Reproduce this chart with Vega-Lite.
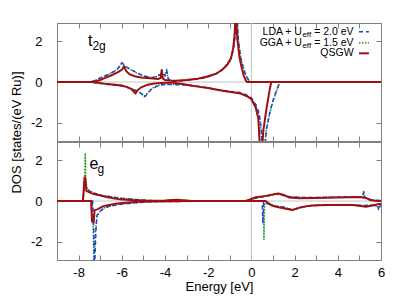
{
"$schema":"https://vega.github.io/schema/vega-lite/v6.json",
"padding":{"left":9,"top":22,"right":21,"bottom":5},
"spacing":1,
"bounds":"flush",
"config":{"view":{"stroke":"#808080","strokeWidth":1},"font":"Liberation Sans",
"axis":{"tickSize":-5,"tickColor":"#808080","tickWidth":1,"domain":false,"grid":false,"labelFont":"Liberation Sans","labelFontSize":13,"labelColor":"#000","titleFont":"Liberation Sans","titleFontSize":13,"titleColor":"#000","titleFontWeight":"normal","labelFlush":false,"labelOverlap":false}},
"datasets":{"dos":[
{"p":"t","m":"Q","s":"u","E":-9,"v":0},{"p":"t","m":"Q","s":"u","E":-7.4,"v":0},{"p":"t","m":"Q","s":"u","E":-7.2,"v":0.03},{"p":"t","m":"Q","s":"u","E":-7,"v":0.1},{"p":"t","m":"Q","s":"u","E":-6.8,"v":0.19},{"p":"t","m":"Q","s":"u","E":-6.5,"v":0.32},{"p":"t","m":"Q","s":"u","E":-6.2,"v":0.47},{"p":"t","m":"Q","s":"u","E":-6,"v":0.6},{"p":"t","m":"Q","s":"u","E":-5.9,"v":0.76},{"p":"t","m":"Q","s":"u","E":-5.8,"v":0.55},{"p":"t","m":"Q","s":"u","E":-5.65,"v":0.38},{"p":"t","m":"Q","s":"u","E":-5.4,"v":0.28},{"p":"t","m":"Q","s":"u","E":-5.1,"v":0.22},{"p":"t","m":"Q","s":"u","E":-4.7,"v":0.18},{"p":"t","m":"Q","s":"u","E":-4.3,"v":0.15},{"p":"t","m":"Q","s":"u","E":-4.2,"v":0.2},{"p":"t","m":"Q","s":"u","E":-4.15,"v":0.62},{"p":"t","m":"Q","s":"u","E":-4.1,"v":0.18},{"p":"t","m":"Q","s":"u","E":-4,"v":0.1},{"p":"t","m":"Q","s":"u","E":-3.8,"v":0.07},{"p":"t","m":"Q","s":"u","E":-3.5,"v":0.06},{"p":"t","m":"Q","s":"u","E":-3,"v":0.1},{"p":"t","m":"Q","s":"u","E":-2.5,"v":0.16},{"p":"t","m":"Q","s":"u","E":-2,"v":0.27},{"p":"t","m":"Q","s":"u","E":-1.6,"v":0.42},{"p":"t","m":"Q","s":"u","E":-1.3,"v":0.65},{"p":"t","m":"Q","s":"u","E":-1.1,"v":0.88},{"p":"t","m":"Q","s":"u","E":-0.95,"v":1.16},{"p":"t","m":"Q","s":"u","E":-0.85,"v":1.6},{"p":"t","m":"Q","s":"u","E":-0.78,"v":2.3},{"p":"t","m":"Q","s":"u","E":-0.72,"v":3.5},{"p":"t","m":"Q","s":"u","E":-0.65,"v":2.1},{"p":"t","m":"Q","s":"u","E":-0.55,"v":1.2},{"p":"t","m":"Q","s":"u","E":-0.45,"v":0.7},{"p":"t","m":"Q","s":"u","E":-0.35,"v":0.3},{"p":"t","m":"Q","s":"u","E":-0.25,"v":0.05},{"p":"t","m":"Q","s":"u","E":-0.2,"v":0},{"p":"t","m":"Q","s":"u","E":6,"v":0},
{"p":"t","m":"L","s":"u","E":-9,"v":0},{"p":"t","m":"L","s":"u","E":-7.5,"v":0},{"p":"t","m":"L","s":"u","E":-7.3,"v":0.05},{"p":"t","m":"L","s":"u","E":-7.1,"v":0.15},{"p":"t","m":"L","s":"u","E":-6.9,"v":0.25},{"p":"t","m":"L","s":"u","E":-6.7,"v":0.33},{"p":"t","m":"L","s":"u","E":-6.5,"v":0.45},{"p":"t","m":"L","s":"u","E":-6.3,"v":0.55},{"p":"t","m":"L","s":"u","E":-6.15,"v":0.7},{"p":"t","m":"L","s":"u","E":-6,"v":0.95},{"p":"t","m":"L","s":"u","E":-5.9,"v":0.85},{"p":"t","m":"L","s":"u","E":-5.75,"v":0.72},{"p":"t","m":"L","s":"u","E":-5.55,"v":0.6},{"p":"t","m":"L","s":"u","E":-5.3,"v":0.45},{"p":"t","m":"L","s":"u","E":-5.1,"v":0.35},{"p":"t","m":"L","s":"u","E":-4.9,"v":0.28},{"p":"t","m":"L","s":"u","E":-4.6,"v":0.22},{"p":"t","m":"L","s":"u","E":-4.4,"v":0.25},{"p":"t","m":"L","s":"u","E":-4.25,"v":0.35},{"p":"t","m":"L","s":"u","E":-4.1,"v":0.45},{"p":"t","m":"L","s":"u","E":-4,"v":0.3},{"p":"t","m":"L","s":"u","E":-3.92,"v":0.55},{"p":"t","m":"L","s":"u","E":-3.85,"v":0.15},{"p":"t","m":"L","s":"u","E":-3.7,"v":0.03},{"p":"t","m":"L","s":"u","E":-3.3,"v":0.05},{"p":"t","m":"L","s":"u","E":-2.9,"v":0.1},{"p":"t","m":"L","s":"u","E":-2.5,"v":0.15},{"p":"t","m":"L","s":"u","E":-2.2,"v":0.2},{"p":"t","m":"L","s":"u","E":-2,"v":0.3},{"p":"t","m":"L","s":"u","E":-1.7,"v":0.38},{"p":"t","m":"L","s":"u","E":-1.4,"v":0.55},{"p":"t","m":"L","s":"u","E":-1.2,"v":0.75},{"p":"t","m":"L","s":"u","E":-1,"v":1},{"p":"t","m":"L","s":"u","E":-0.9,"v":1.3},{"p":"t","m":"L","s":"u","E":-0.8,"v":1.8},{"p":"t","m":"L","s":"u","E":-0.72,"v":2.5},{"p":"t","m":"L","s":"u","E":-0.68,"v":3.5},{"p":"t","m":"L","s":"u","E":-0.6,"v":2},{"p":"t","m":"L","s":"u","E":-0.5,"v":1.2},{"p":"t","m":"L","s":"u","E":-0.4,"v":0.8},{"p":"t","m":"L","s":"u","E":-0.3,"v":0.45},{"p":"t","m":"L","s":"u","E":-0.2,"v":0.2},{"p":"t","m":"L","s":"u","E":-0.1,"v":0.05},{"p":"t","m":"L","s":"u","E":-0.05,"v":0},{"p":"t","m":"L","s":"u","E":6,"v":0},
{"p":"t","m":"G","s":"u","E":-9,"v":0},{"p":"t","m":"G","s":"u","E":-7.5,"v":0},{"p":"t","m":"G","s":"u","E":-7.3,"v":0.04},{"p":"t","m":"G","s":"u","E":-7.1,"v":0.14},{"p":"t","m":"G","s":"u","E":-6.9,"v":0.24},{"p":"t","m":"G","s":"u","E":-6.7,"v":0.35},{"p":"t","m":"G","s":"u","E":-6.5,"v":0.43},{"p":"t","m":"G","s":"u","E":-6.3,"v":0.56},{"p":"t","m":"G","s":"u","E":-6.15,"v":0.68},{"p":"t","m":"G","s":"u","E":-6.02,"v":0.9},{"p":"t","m":"G","s":"u","E":-5.9,"v":0.82},{"p":"t","m":"G","s":"u","E":-5.75,"v":0.7},{"p":"t","m":"G","s":"u","E":-5.55,"v":0.58},{"p":"t","m":"G","s":"u","E":-5.3,"v":0.44},{"p":"t","m":"G","s":"u","E":-5.1,"v":0.34},{"p":"t","m":"G","s":"u","E":-4.9,"v":0.27},{"p":"t","m":"G","s":"u","E":-4.6,"v":0.22},{"p":"t","m":"G","s":"u","E":-4.4,"v":0.26},{"p":"t","m":"G","s":"u","E":-4.25,"v":0.36},{"p":"t","m":"G","s":"u","E":-4.1,"v":0.42},{"p":"t","m":"G","s":"u","E":-4,"v":0.35},{"p":"t","m":"G","s":"u","E":-3.93,"v":0.6},{"p":"t","m":"G","s":"u","E":-3.86,"v":0.2},{"p":"t","m":"G","s":"u","E":-3.7,"v":0.04},{"p":"t","m":"G","s":"u","E":-3.3,"v":0.06},{"p":"t","m":"G","s":"u","E":-2.9,"v":0.1},{"p":"t","m":"G","s":"u","E":-2.5,"v":0.16},{"p":"t","m":"G","s":"u","E":-2.2,"v":0.22},{"p":"t","m":"G","s":"u","E":-2,"v":0.3},{"p":"t","m":"G","s":"u","E":-1.7,"v":0.4},{"p":"t","m":"G","s":"u","E":-1.4,"v":0.56},{"p":"t","m":"G","s":"u","E":-1.2,"v":0.78},{"p":"t","m":"G","s":"u","E":-1,"v":1.05},{"p":"t","m":"G","s":"u","E":-0.9,"v":1.35},{"p":"t","m":"G","s":"u","E":-0.8,"v":1.9},{"p":"t","m":"G","s":"u","E":-0.73,"v":2.7},{"p":"t","m":"G","s":"u","E":-0.69,"v":3.5},{"p":"t","m":"G","s":"u","E":-0.61,"v":2.1},{"p":"t","m":"G","s":"u","E":-0.5,"v":1.25},{"p":"t","m":"G","s":"u","E":-0.4,"v":0.82},{"p":"t","m":"G","s":"u","E":-0.3,"v":0.48},{"p":"t","m":"G","s":"u","E":-0.2,"v":0.22},{"p":"t","m":"G","s":"u","E":-0.1,"v":0.06},{"p":"t","m":"G","s":"u","E":-0.04,"v":0},{"p":"t","m":"G","s":"u","E":6,"v":0},
{"p":"t","m":"Q","s":"d","E":-9,"v":0},{"p":"t","m":"Q","s":"d","E":-7.4,"v":0},{"p":"t","m":"Q","s":"d","E":-7.2,"v":-0.03},{"p":"t","m":"Q","s":"d","E":-6.8,"v":-0.08},{"p":"t","m":"Q","s":"d","E":-6.4,"v":-0.12},{"p":"t","m":"Q","s":"d","E":-6,"v":-0.17},{"p":"t","m":"Q","s":"d","E":-5.75,"v":-0.25},{"p":"t","m":"Q","s":"d","E":-5.55,"v":-0.35},{"p":"t","m":"Q","s":"d","E":-5.42,"v":-0.5},{"p":"t","m":"Q","s":"d","E":-5.36,"v":-0.56},{"p":"t","m":"Q","s":"d","E":-5.3,"v":-0.42},{"p":"t","m":"Q","s":"d","E":-5.1,"v":-0.26},{"p":"t","m":"Q","s":"d","E":-4.8,"v":-0.13},{"p":"t","m":"Q","s":"d","E":-4.5,"v":-0.07},{"p":"t","m":"Q","s":"d","E":-4,"v":-0.04},{"p":"t","m":"Q","s":"d","E":-3.6,"v":-0.04},{"p":"t","m":"Q","s":"d","E":-3.2,"v":-0.1},{"p":"t","m":"Q","s":"d","E":-2.8,"v":-0.17},{"p":"t","m":"Q","s":"d","E":-2.4,"v":-0.24},{"p":"t","m":"Q","s":"d","E":-2,"v":-0.3},{"p":"t","m":"Q","s":"d","E":-1.6,"v":-0.38},{"p":"t","m":"Q","s":"d","E":-1.2,"v":-0.45},{"p":"t","m":"Q","s":"d","E":-0.8,"v":-0.52},{"p":"t","m":"Q","s":"d","E":-0.5,"v":-0.57},{"p":"t","m":"Q","s":"d","E":-0.2,"v":-0.7},{"p":"t","m":"Q","s":"d","E":0,"v":-0.85},{"p":"t","m":"Q","s":"d","E":0.2,"v":-1.25},{"p":"t","m":"Q","s":"d","E":0.32,"v":-1.8},{"p":"t","m":"Q","s":"d","E":0.4,"v":-3.3},{"p":"t","m":"Q","s":"d","E":0.5,"v":-3.3},{"p":"t","m":"Q","s":"d","E":0.55,"v":-2.4},{"p":"t","m":"Q","s":"d","E":0.7,"v":-1.3},{"p":"t","m":"Q","s":"d","E":0.85,"v":-0.35},{"p":"t","m":"Q","s":"d","E":0.92,"v":0},{"p":"t","m":"Q","s":"d","E":6,"v":0},
{"p":"t","m":"L","s":"d","E":-9,"v":0},{"p":"t","m":"L","s":"d","E":-7.4,"v":0},{"p":"t","m":"L","s":"d","E":-7.2,"v":-0.05},{"p":"t","m":"L","s":"d","E":-6.8,"v":-0.1},{"p":"t","m":"L","s":"d","E":-6.4,"v":-0.15},{"p":"t","m":"L","s":"d","E":-6,"v":-0.2},{"p":"t","m":"L","s":"d","E":-5.7,"v":-0.28},{"p":"t","m":"L","s":"d","E":-5.45,"v":-0.38},{"p":"t","m":"L","s":"d","E":-5.2,"v":-0.5},{"p":"t","m":"L","s":"d","E":-5.05,"v":-0.62},{"p":"t","m":"L","s":"d","E":-4.95,"v":-0.75},{"p":"t","m":"L","s":"d","E":-4.85,"v":-0.62},{"p":"t","m":"L","s":"d","E":-4.65,"v":-0.38},{"p":"t","m":"L","s":"d","E":-4.4,"v":-0.22},{"p":"t","m":"L","s":"d","E":-4.2,"v":-0.15},{"p":"t","m":"L","s":"d","E":-4,"v":-0.12},{"p":"t","m":"L","s":"d","E":-3.8,"v":-0.12},{"p":"t","m":"L","s":"d","E":-3.4,"v":-0.13},{"p":"t","m":"L","s":"d","E":-3,"v":-0.15},{"p":"t","m":"L","s":"d","E":-2.7,"v":-0.18},{"p":"t","m":"L","s":"d","E":-2.4,"v":-0.22},{"p":"t","m":"L","s":"d","E":-2.1,"v":-0.27},{"p":"t","m":"L","s":"d","E":-1.8,"v":-0.33},{"p":"t","m":"L","s":"d","E":-1.5,"v":-0.38},{"p":"t","m":"L","s":"d","E":-1.2,"v":-0.43},{"p":"t","m":"L","s":"d","E":-0.9,"v":-0.48},{"p":"t","m":"L","s":"d","E":-0.6,"v":-0.5},{"p":"t","m":"L","s":"d","E":-0.3,"v":-0.6},{"p":"t","m":"L","s":"d","E":0,"v":-0.78},{"p":"t","m":"L","s":"d","E":0.2,"v":-1.1},{"p":"t","m":"L","s":"d","E":0.35,"v":-1.5},{"p":"t","m":"L","s":"d","E":0.45,"v":-2.2},{"p":"t","m":"L","s":"d","E":0.52,"v":-3.3},{"p":"t","m":"L","s":"d","E":0.62,"v":-3.3},{"p":"t","m":"L","s":"d","E":0.7,"v":-2.3},{"p":"t","m":"L","s":"d","E":0.85,"v":-1.5},{"p":"t","m":"L","s":"d","E":1,"v":-0.9},{"p":"t","m":"L","s":"d","E":1.15,"v":-0.45},{"p":"t","m":"L","s":"d","E":1.3,"v":-0.05},{"p":"t","m":"L","s":"d","E":1.35,"v":0},{"p":"t","m":"L","s":"d","E":6,"v":0},
{"p":"t","m":"G","s":"d","E":-9,"v":0},{"p":"t","m":"G","s":"d","E":-7.4,"v":0},{"p":"t","m":"G","s":"d","E":-7.2,"v":-0.04},{"p":"t","m":"G","s":"d","E":-6.8,"v":-0.1},{"p":"t","m":"G","s":"d","E":-6.4,"v":-0.14},{"p":"t","m":"G","s":"d","E":-6,"v":-0.2},{"p":"t","m":"G","s":"d","E":-5.7,"v":-0.27},{"p":"t","m":"G","s":"d","E":-5.45,"v":-0.37},{"p":"t","m":"G","s":"d","E":-5.2,"v":-0.48},{"p":"t","m":"G","s":"d","E":-5.05,"v":-0.6},{"p":"t","m":"G","s":"d","E":-4.97,"v":-0.7},{"p":"t","m":"G","s":"d","E":-4.85,"v":-0.6},{"p":"t","m":"G","s":"d","E":-4.65,"v":-0.36},{"p":"t","m":"G","s":"d","E":-4.4,"v":-0.2},{"p":"t","m":"G","s":"d","E":-4.2,"v":-0.14},{"p":"t","m":"G","s":"d","E":-4,"v":-0.11},{"p":"t","m":"G","s":"d","E":-3.8,"v":-0.11},{"p":"t","m":"G","s":"d","E":-3.4,"v":-0.12},{"p":"t","m":"G","s":"d","E":-3,"v":-0.15},{"p":"t","m":"G","s":"d","E":-2.7,"v":-0.19},{"p":"t","m":"G","s":"d","E":-2.4,"v":-0.23},{"p":"t","m":"G","s":"d","E":-2.1,"v":-0.28},{"p":"t","m":"G","s":"d","E":-1.8,"v":-0.33},{"p":"t","m":"G","s":"d","E":-1.5,"v":-0.39},{"p":"t","m":"G","s":"d","E":-1.2,"v":-0.44},{"p":"t","m":"G","s":"d","E":-0.9,"v":-0.48},{"p":"t","m":"G","s":"d","E":-0.6,"v":-0.52},{"p":"t","m":"G","s":"d","E":-0.3,"v":-0.62},{"p":"t","m":"G","s":"d","E":0,"v":-0.8},{"p":"t","m":"G","s":"d","E":0.2,"v":-1.15},{"p":"t","m":"G","s":"d","E":0.35,"v":-1.6},{"p":"t","m":"G","s":"d","E":0.45,"v":-2.4},{"p":"t","m":"G","s":"d","E":0.5,"v":-3.3},{"p":"t","m":"G","s":"d","E":0.6,"v":-3.3},{"p":"t","m":"G","s":"d","E":0.68,"v":-2.4},{"p":"t","m":"G","s":"d","E":0.85,"v":-1.55},{"p":"t","m":"G","s":"d","E":1,"v":-0.95},{"p":"t","m":"G","s":"d","E":1.15,"v":-0.5},{"p":"t","m":"G","s":"d","E":1.3,"v":-0.08},{"p":"t","m":"G","s":"d","E":1.36,"v":0},{"p":"t","m":"G","s":"d","E":6,"v":0},
{"p":"e","m":"Q","s":"u","E":-9,"v":0},{"p":"e","m":"Q","s":"u","E":-7.8,"v":0},{"p":"e","m":"Q","s":"u","E":-7.76,"v":0.6},{"p":"e","m":"Q","s":"u","E":-7.72,"v":1.2},{"p":"e","m":"Q","s":"u","E":-7.68,"v":1.05},{"p":"e","m":"Q","s":"u","E":-7.64,"v":0.5},{"p":"e","m":"Q","s":"u","E":-7.5,"v":0.42},{"p":"e","m":"Q","s":"u","E":-7.3,"v":0.34},{"p":"e","m":"Q","s":"u","E":-7.1,"v":0.3},{"p":"e","m":"Q","s":"u","E":-6.9,"v":0.25},{"p":"e","m":"Q","s":"u","E":-6.7,"v":0.2},{"p":"e","m":"Q","s":"u","E":-6.4,"v":0.13},{"p":"e","m":"Q","s":"u","E":-6.1,"v":0.08},{"p":"e","m":"Q","s":"u","E":-5.8,"v":0.06},{"p":"e","m":"Q","s":"u","E":-5.4,"v":0.04},{"p":"e","m":"Q","s":"u","E":-5,"v":0.02},{"p":"e","m":"Q","s":"u","E":-4.5,"v":0.01},{"p":"e","m":"Q","s":"u","E":-4,"v":0.02},{"p":"e","m":"Q","s":"u","E":-3.7,"v":0.05},{"p":"e","m":"Q","s":"u","E":-3.4,"v":0.06},{"p":"e","m":"Q","s":"u","E":-3.1,"v":0.03},{"p":"e","m":"Q","s":"u","E":-2.8,"v":0.01},{"p":"e","m":"Q","s":"u","E":-2.5,"v":0},{"p":"e","m":"Q","s":"u","E":-0.3,"v":0},{"p":"e","m":"Q","s":"u","E":-0.2,"v":0.03},{"p":"e","m":"Q","s":"u","E":0,"v":0.1},{"p":"e","m":"Q","s":"u","E":0.2,"v":0.18},{"p":"e","m":"Q","s":"u","E":0.6,"v":0.24},{"p":"e","m":"Q","s":"u","E":1,"v":0.32},{"p":"e","m":"Q","s":"u","E":1.25,"v":0.37},{"p":"e","m":"Q","s":"u","E":1.5,"v":0.3},{"p":"e","m":"Q","s":"u","E":1.75,"v":0.17},{"p":"e","m":"Q","s":"u","E":2.2,"v":0.13},{"p":"e","m":"Q","s":"u","E":3,"v":0.15},{"p":"e","m":"Q","s":"u","E":4,"v":0.17},{"p":"e","m":"Q","s":"u","E":5,"v":0.2},{"p":"e","m":"Q","s":"u","E":5.3,"v":0.15},{"p":"e","m":"Q","s":"u","E":5.5,"v":0.05},{"p":"e","m":"Q","s":"u","E":5.7,"v":0.01},{"p":"e","m":"Q","s":"u","E":6,"v":0},
{"p":"e","m":"Q","s":"d","E":-9,"v":0},{"p":"e","m":"Q","s":"d","E":-7.42,"v":0},{"p":"e","m":"Q","s":"d","E":-7.4,"v":-0.5},{"p":"e","m":"Q","s":"d","E":-7.38,"v":-1},{"p":"e","m":"Q","s":"d","E":-7.3,"v":-1.02},{"p":"e","m":"Q","s":"d","E":-7.26,"v":-0.45},{"p":"e","m":"Q","s":"d","E":-7.1,"v":-0.4},{"p":"e","m":"Q","s":"d","E":-6.95,"v":-0.3},{"p":"e","m":"Q","s":"d","E":-6.85,"v":-0.25},{"p":"e","m":"Q","s":"d","E":-6.6,"v":-0.2},{"p":"e","m":"Q","s":"d","E":-6.2,"v":-0.12},{"p":"e","m":"Q","s":"d","E":-5.8,"v":-0.08},{"p":"e","m":"Q","s":"d","E":-5.4,"v":-0.05},{"p":"e","m":"Q","s":"d","E":-5,"v":-0.03},{"p":"e","m":"Q","s":"d","E":-4.5,"v":-0.02},{"p":"e","m":"Q","s":"d","E":-4,"v":-0.01},{"p":"e","m":"Q","s":"d","E":-2.5,"v":0},{"p":"e","m":"Q","s":"d","E":0.65,"v":0},{"p":"e","m":"Q","s":"d","E":0.75,"v":-0.08},{"p":"e","m":"Q","s":"d","E":0.95,"v":-0.22},{"p":"e","m":"Q","s":"d","E":1.2,"v":-0.3},{"p":"e","m":"Q","s":"d","E":1.6,"v":-0.38},{"p":"e","m":"Q","s":"d","E":1.9,"v":-0.44},{"p":"e","m":"Q","s":"d","E":2.3,"v":-0.3},{"p":"e","m":"Q","s":"d","E":2.8,"v":-0.22},{"p":"e","m":"Q","s":"d","E":3.5,"v":-0.2},{"p":"e","m":"Q","s":"d","E":4.2,"v":-0.2},{"p":"e","m":"Q","s":"d","E":4.7,"v":-0.2},{"p":"e","m":"Q","s":"d","E":5.3,"v":-0.28},{"p":"e","m":"Q","s":"d","E":5.6,"v":-0.22},{"p":"e","m":"Q","s":"d","E":5.9,"v":-0.15},{"p":"e","m":"Q","s":"d","E":6,"v":-0.15},
{"p":"e","m":"L","s":"u","E":-9,"v":0},{"p":"e","m":"L","s":"u","E":-7.8,"v":0},{"p":"e","m":"L","s":"u","E":-7.76,"v":0.5},{"p":"e","m":"L","s":"u","E":-7.73,"v":1},{"p":"e","m":"L","s":"u","E":-7.69,"v":0.85},{"p":"e","m":"L","s":"u","E":-7.62,"v":0.6},{"p":"e","m":"L","s":"u","E":-7.5,"v":0.48},{"p":"e","m":"L","s":"u","E":-7.3,"v":0.4},{"p":"e","m":"L","s":"u","E":-7.1,"v":0.32},{"p":"e","m":"L","s":"u","E":-6.9,"v":0.27},{"p":"e","m":"L","s":"u","E":-6.6,"v":0.22},{"p":"e","m":"L","s":"u","E":-6.3,"v":0.17},{"p":"e","m":"L","s":"u","E":-6,"v":0.13},{"p":"e","m":"L","s":"u","E":-5.6,"v":0.1},{"p":"e","m":"L","s":"u","E":-5.2,"v":0.06},{"p":"e","m":"L","s":"u","E":-4.8,"v":0.03},{"p":"e","m":"L","s":"u","E":-4.4,"v":0.01},{"p":"e","m":"L","s":"u","E":-3.8,"v":0.02},{"p":"e","m":"L","s":"u","E":-3.5,"v":0.05},{"p":"e","m":"L","s":"u","E":-3.2,"v":0.04},{"p":"e","m":"L","s":"u","E":-2.9,"v":0.02},{"p":"e","m":"L","s":"u","E":-2.5,"v":0},{"p":"e","m":"L","s":"u","E":-0.2,"v":0},{"p":"e","m":"L","s":"u","E":-0.1,"v":0.05},{"p":"e","m":"L","s":"u","E":0.2,"v":0.14},{"p":"e","m":"L","s":"u","E":0.5,"v":0.2},{"p":"e","m":"L","s":"u","E":0.8,"v":0.26},{"p":"e","m":"L","s":"u","E":1.1,"v":0.35},{"p":"e","m":"L","s":"u","E":1.4,"v":0.3},{"p":"e","m":"L","s":"u","E":1.8,"v":0.2},{"p":"e","m":"L","s":"u","E":2.5,"v":0.17},{"p":"e","m":"L","s":"u","E":3.5,"v":0.18},{"p":"e","m":"L","s":"u","E":4.5,"v":0.2},{"p":"e","m":"L","s":"u","E":5.15,"v":0.2},{"p":"e","m":"L","s":"u","E":5.2,"v":0.45},{"p":"e","m":"L","s":"u","E":5.25,"v":0.15},{"p":"e","m":"L","s":"u","E":5.6,"v":0.05},{"p":"e","m":"L","s":"u","E":6,"v":0.02},
{"p":"e","m":"G","s":"u","E":-9,"v":0},{"p":"e","m":"G","s":"u","E":-7.8,"v":0},{"p":"e","m":"G","s":"u","E":-7.72,"v":0.8},{"p":"e","m":"G","s":"u","E":-7.69,"v":2.35},{"p":"e","m":"G","s":"u","E":-7.66,"v":0.9},{"p":"e","m":"G","s":"u","E":-7.6,"v":0.62},{"p":"e","m":"G","s":"u","E":-7.5,"v":0.5},{"p":"e","m":"G","s":"u","E":-7.3,"v":0.4},{"p":"e","m":"G","s":"u","E":-7.1,"v":0.33},{"p":"e","m":"G","s":"u","E":-6.9,"v":0.27},{"p":"e","m":"G","s":"u","E":-6.6,"v":0.23},{"p":"e","m":"G","s":"u","E":-6.3,"v":0.18},{"p":"e","m":"G","s":"u","E":-6,"v":0.13},{"p":"e","m":"G","s":"u","E":-5.6,"v":0.1},{"p":"e","m":"G","s":"u","E":-5.2,"v":0.06},{"p":"e","m":"G","s":"u","E":-4.8,"v":0.03},{"p":"e","m":"G","s":"u","E":-4.4,"v":0.01},{"p":"e","m":"G","s":"u","E":-3.8,"v":0.02},{"p":"e","m":"G","s":"u","E":-3.5,"v":0.05},{"p":"e","m":"G","s":"u","E":-3.2,"v":0.04},{"p":"e","m":"G","s":"u","E":-2.9,"v":0.02},{"p":"e","m":"G","s":"u","E":-2.5,"v":0},{"p":"e","m":"G","s":"u","E":-0.2,"v":0},{"p":"e","m":"G","s":"u","E":-0.1,"v":0.06},{"p":"e","m":"G","s":"u","E":0.2,"v":0.15},{"p":"e","m":"G","s":"u","E":0.5,"v":0.21},{"p":"e","m":"G","s":"u","E":0.8,"v":0.26},{"p":"e","m":"G","s":"u","E":1.1,"v":0.34},{"p":"e","m":"G","s":"u","E":1.4,"v":0.3},{"p":"e","m":"G","s":"u","E":1.8,"v":0.2},{"p":"e","m":"G","s":"u","E":2.5,"v":0.17},{"p":"e","m":"G","s":"u","E":3.5,"v":0.18},{"p":"e","m":"G","s":"u","E":4.5,"v":0.2},{"p":"e","m":"G","s":"u","E":5.15,"v":0.2},{"p":"e","m":"G","s":"u","E":5.2,"v":0.5},{"p":"e","m":"G","s":"u","E":5.25,"v":0.15},{"p":"e","m":"G","s":"u","E":5.6,"v":0.05},{"p":"e","m":"G","s":"u","E":6,"v":0.02},
{"p":"e","m":"L","s":"d","E":-9,"v":0},{"p":"e","m":"L","s":"d","E":-7.35,"v":0},{"p":"e","m":"L","s":"d","E":-7.3,"v":-1.5},{"p":"e","m":"L","s":"d","E":-7.26,"v":-3.3},{"p":"e","m":"L","s":"d","E":-7.2,"v":-1.5},{"p":"e","m":"L","s":"d","E":-7.15,"v":-0.7},{"p":"e","m":"L","s":"d","E":-7,"v":-0.5},{"p":"e","m":"L","s":"d","E":-6.8,"v":-0.32},{"p":"e","m":"L","s":"d","E":-6.5,"v":-0.25},{"p":"e","m":"L","s":"d","E":-6.3,"v":-0.2},{"p":"e","m":"L","s":"d","E":-6,"v":-0.15},{"p":"e","m":"L","s":"d","E":-5.7,"v":-0.12},{"p":"e","m":"L","s":"d","E":-5.3,"v":-0.08},{"p":"e","m":"L","s":"d","E":-5,"v":-0.06},{"p":"e","m":"L","s":"d","E":-4.6,"v":-0.03},{"p":"e","m":"L","s":"d","E":-4,"v":-0.02},{"p":"e","m":"L","s":"d","E":-3.4,"v":-0.02},{"p":"e","m":"L","s":"d","E":-2.6,"v":-0.01},{"p":"e","m":"L","s":"d","E":-2.3,"v":0},{"p":"e","m":"L","s":"d","E":0.5,"v":0},{"p":"e","m":"L","s":"d","E":0.53,"v":-1.1},{"p":"e","m":"L","s":"d","E":0.57,"v":-0.1},{"p":"e","m":"L","s":"d","E":0.8,"v":-0.15},{"p":"e","m":"L","s":"d","E":1.1,"v":-0.25},{"p":"e","m":"L","s":"d","E":1.5,"v":-0.3},{"p":"e","m":"L","s":"d","E":1.9,"v":-0.45},{"p":"e","m":"L","s":"d","E":2.2,"v":-0.35},{"p":"e","m":"L","s":"d","E":2.6,"v":-0.25},{"p":"e","m":"L","s":"d","E":3.2,"v":-0.2},{"p":"e","m":"L","s":"d","E":4,"v":-0.2},{"p":"e","m":"L","s":"d","E":4.8,"v":-0.2},{"p":"e","m":"L","s":"d","E":5.3,"v":-0.22},{"p":"e","m":"L","s":"d","E":5.6,"v":-0.2},{"p":"e","m":"L","s":"d","E":5.85,"v":-0.28},{"p":"e","m":"L","s":"d","E":5.9,"v":-0.45},{"p":"e","m":"L","s":"d","E":5.95,"v":-0.25},{"p":"e","m":"L","s":"d","E":6,"v":-0.25},
{"p":"e","m":"G","s":"d","E":-9,"v":0},{"p":"e","m":"G","s":"d","E":-7.37,"v":0},{"p":"e","m":"G","s":"d","E":-7.32,"v":-1.5},{"p":"e","m":"G","s":"d","E":-7.29,"v":-3.3},{"p":"e","m":"G","s":"d","E":-7.22,"v":-1.5},{"p":"e","m":"G","s":"d","E":-7.15,"v":-0.75},{"p":"e","m":"G","s":"d","E":-7,"v":-0.5},{"p":"e","m":"G","s":"d","E":-6.8,"v":-0.33},{"p":"e","m":"G","s":"d","E":-6.5,"v":-0.25},{"p":"e","m":"G","s":"d","E":-6.3,"v":-0.2},{"p":"e","m":"G","s":"d","E":-6,"v":-0.15},{"p":"e","m":"G","s":"d","E":-5.7,"v":-0.12},{"p":"e","m":"G","s":"d","E":-5.3,"v":-0.08},{"p":"e","m":"G","s":"d","E":-5,"v":-0.06},{"p":"e","m":"G","s":"d","E":-4.6,"v":-0.03},{"p":"e","m":"G","s":"d","E":-4,"v":-0.02},{"p":"e","m":"G","s":"d","E":-3.4,"v":-0.02},{"p":"e","m":"G","s":"d","E":-2.6,"v":-0.01},{"p":"e","m":"G","s":"d","E":-2.3,"v":0},{"p":"e","m":"G","s":"d","E":0.56,"v":0},{"p":"e","m":"G","s":"d","E":0.58,"v":-1.9},{"p":"e","m":"G","s":"d","E":0.61,"v":-0.1},{"p":"e","m":"G","s":"d","E":0.8,"v":-0.15},{"p":"e","m":"G","s":"d","E":1.1,"v":-0.24},{"p":"e","m":"G","s":"d","E":1.5,"v":-0.3},{"p":"e","m":"G","s":"d","E":1.9,"v":-0.43},{"p":"e","m":"G","s":"d","E":2.2,"v":-0.35},{"p":"e","m":"G","s":"d","E":2.6,"v":-0.25},{"p":"e","m":"G","s":"d","E":3.2,"v":-0.2},{"p":"e","m":"G","s":"d","E":4,"v":-0.2},{"p":"e","m":"G","s":"d","E":4.8,"v":-0.2},{"p":"e","m":"G","s":"d","E":5.3,"v":-0.22},{"p":"e","m":"G","s":"d","E":5.6,"v":-0.2},{"p":"e","m":"G","s":"d","E":5.9,"v":-0.3},{"p":"e","m":"G","s":"d","E":6,"v":-0.25}
]},
"vconcat":[
{"width":324,"height":118,
 "resolve":{"axis":{"x":"independent","y":"independent"}},
 "layer":[
   {"data":{"name":"dos"},"transform":[{"filter":"datum.p==='t' && datum.m==='G'"}],"mark":{"type":"line","color":"#1a8f1a","strokeWidth":1.5,"strokeDash":[1.5,1.5],"clip":true},
    "encoding":{"x":{"field":"E","type":"quantitative","scale":{"domain":[-9,6],"nice":false,"zero":false},"axis":{"values":[-9,-8,-7,-6,-5,-4,-3,-2,-1,0,1,2,3,4,5,6],"labels":false,"title":null}},
     "y":{"field":"v","type":"quantitative","scale":{"domain":[-2.9,2.9],"nice":false,"zero":false},"axis":{"values":[-2,0,2],"labelExpr":"'' + datum.value","labelPadding":20,"title":null}},
     "detail":{"field":"s"}}},
   {"data":{"values":[{}]},"mark":{"type":"point","opacity":0},
    "encoding":{"x":{"datum":0,"type":"quantitative","axis":{"orient":"top","values":[-9,-8,-7,-6,-5,-4,-3,-2,-1,0,1,2,3,4,5,6],"labels":false,"title":null}},
     "y":{"datum":0,"type":"quantitative","axis":{"orient":"right","values":[-2,0,2],"labels":false,"title":null}}}},
   {"data":{"values":[{}]},"mark":{"type":"rule","color":"#c4c4c4","strokeWidth":1},"encoding":{"y":{"datum":0,"type":"quantitative","axis":null}}},
   {"data":{"values":[{}]},"mark":{"type":"rule","color":"#c4c4c4","strokeWidth":1},"encoding":{"x":{"datum":0,"type":"quantitative","axis":null}}},
   {"data":{"name":"dos"},"transform":[{"filter":"datum.p==='t' && datum.m==='L'"}],"mark":{"type":"line","color":"#2040e0","strokeWidth":1.5,"strokeDash":[4,3],"clip":true},
    "encoding":{"x":{"field":"E","type":"quantitative","axis":null},"y":{"field":"v","type":"quantitative","axis":null},"detail":{"field":"s"}}},
   {"data":{"name":"dos"},"transform":[{"filter":"datum.p==='t' && datum.m==='Q'"}],"mark":{"type":"line","color":"#a00f0f","strokeWidth":2,"clip":true},
    "encoding":{"x":{"field":"E","type":"quantitative","axis":null},"y":{"field":"v","type":"quantitative","axis":null},"detail":{"field":"s"}}},
   {"data":{"values":[{}]},"mark":{"type":"text","text":"t","font":"Liberation Sans","fontSize":16,"align":"left","baseline":"alphabetic","color":"#000"},"encoding":{"x":{"datum":-7.56,"type":"quantitative","axis":null},"y":{"datum":1.77,"type":"quantitative","axis":null}}},
   {"data":{"values":[{}]},"mark":{"type":"text","text":"2g","font":"Liberation Sans","fontSize":12,"align":"left","baseline":"alphabetic","color":"#000"},"encoding":{"x":{"datum":-7.36,"type":"quantitative","axis":null},"y":{"datum":1.57,"type":"quantitative","axis":null}}},
   {"data":{"values":[{}]},"mark":{"type":"text","text":"LDA + U","font":"Liberation Sans","fontSize":10.5,"align":"right","baseline":"middle","color":"#000"},"encoding":{"x":{"datum":2.34,"type":"quantitative","axis":null},"y":{"datum":2.47,"type":"quantitative","axis":null}}},
   {"data":{"values":[{}]},"mark":{"type":"text","text":"eff","font":"Liberation Sans","fontSize":8,"align":"left","baseline":"middle","color":"#000"},"encoding":{"x":{"datum":2.36,"type":"quantitative","axis":null},"y":{"datum":2.32,"type":"quantitative","axis":null}}},
   {"data":{"values":[{}]},"mark":{"type":"text","text":"= 2.0 eV","font":"Liberation Sans","fontSize":10.5,"align":"right","baseline":"middle","color":"#000"},"encoding":{"x":{"datum":4.73,"type":"quantitative","axis":null},"y":{"datum":2.47,"type":"quantitative","axis":null}}},
   {"data":{"values":[{}]},"mark":{"type":"rule","color":"#2040e0","strokeWidth":1.5,"strokeDash":[4,3]},"encoding":{"x":{"datum":4.98,"type":"quantitative","axis":null},"x2":{"datum":5.44},"y":{"datum":2.47,"type":"quantitative","axis":null}}},
   {"data":{"values":[{}]},"mark":{"type":"text","text":"GGA + U","font":"Liberation Sans","fontSize":10.5,"align":"right","baseline":"middle","color":"#000"},"encoding":{"x":{"datum":2.34,"type":"quantitative","axis":null},"y":{"datum":1.93,"type":"quantitative","axis":null}}},
   {"data":{"values":[{}]},"mark":{"type":"text","text":"eff","font":"Liberation Sans","fontSize":8,"align":"left","baseline":"middle","color":"#000"},"encoding":{"x":{"datum":2.36,"type":"quantitative","axis":null},"y":{"datum":1.78,"type":"quantitative","axis":null}}},
   {"data":{"values":[{}]},"mark":{"type":"text","text":"= 1.5 eV","font":"Liberation Sans","fontSize":10.5,"align":"right","baseline":"middle","color":"#000"},"encoding":{"x":{"datum":4.73,"type":"quantitative","axis":null},"y":{"datum":1.93,"type":"quantitative","axis":null}}},
   {"data":{"values":[{}]},"mark":{"type":"rule","color":"#1a8f1a","strokeWidth":1.5,"strokeDash":[1.5,1.5]},"encoding":{"x":{"datum":4.98,"type":"quantitative","axis":null},"x2":{"datum":5.44},"y":{"datum":1.93,"type":"quantitative","axis":null}}},
   {"data":{"values":[{}]},"mark":{"type":"text","text":"QSGW","font":"Liberation Sans","fontSize":10.5,"align":"right","baseline":"middle","color":"#000"},"encoding":{"x":{"datum":4.73,"type":"quantitative","axis":null},"y":{"datum":1.41,"type":"quantitative","axis":null}}},
   {"data":{"values":[{}]},"mark":{"type":"rule","color":"#a00f0f","strokeWidth":2},"encoding":{"x":{"datum":4.98,"type":"quantitative","axis":null},"x2":{"datum":5.44},"y":{"datum":1.41,"type":"quantitative","axis":null}}}
 ]},
{"width":324,"height":118,
 "resolve":{"axis":{"x":"independent","y":"independent"}},
 "layer":[
   {"data":{"name":"dos"},"transform":[{"filter":"datum.p==='e' && datum.m==='G'"}],"mark":{"type":"line","color":"#1a8f1a","strokeWidth":1.5,"strokeDash":[1.5,1.5],"clip":true},
    "encoding":{"x":{"field":"E","type":"quantitative","scale":{"domain":[-9,6],"nice":false,"zero":false},"axis":{"values":[-9,-8,-7,-6,-5,-4,-3,-2,-1,0,1,2,3,4,5,6],"labelExpr":"datum.value % 2 === 0 ? '' + datum.value : ''","labelPadding":11,"title":"Energy [eV]","titlePadding":1}},
     "y":{"field":"v","type":"quantitative","scale":{"domain":[-2.9,2.9],"nice":false,"zero":false},"axis":{"values":[-2,0,2],"labelExpr":"'' + datum.value","labelPadding":20,"title":"DOS [states/(eV Ru)]","titlePadding":7,"titleY":-10}},
     "detail":{"field":"s"}}},
   {"data":{"values":[{}]},"mark":{"type":"point","opacity":0},
    "encoding":{"x":{"datum":0,"type":"quantitative","axis":{"orient":"top","values":[-9,-8,-7,-6,-5,-4,-3,-2,-1,0,1,2,3,4,5,6],"labels":false,"title":null}},
     "y":{"datum":0,"type":"quantitative","axis":{"orient":"right","values":[-2,0,2],"labels":false,"title":null}}}},
   {"data":{"values":[{}]},"mark":{"type":"rule","color":"#c4c4c4","strokeWidth":1},"encoding":{"y":{"datum":0,"type":"quantitative","axis":null}}},
   {"data":{"values":[{}]},"mark":{"type":"rule","color":"#c4c4c4","strokeWidth":1},"encoding":{"x":{"datum":0,"type":"quantitative","axis":null}}},
   {"data":{"name":"dos"},"transform":[{"filter":"datum.p==='e' && datum.m==='L'"}],"mark":{"type":"line","color":"#2040e0","strokeWidth":1.5,"strokeDash":[4,3],"clip":true},
    "encoding":{"x":{"field":"E","type":"quantitative","axis":null},"y":{"field":"v","type":"quantitative","axis":null},"detail":{"field":"s"}}},
   {"data":{"name":"dos"},"transform":[{"filter":"datum.p==='e' && datum.m==='Q'"}],"mark":{"type":"line","color":"#a00f0f","strokeWidth":2,"clip":true},
    "encoding":{"x":{"field":"E","type":"quantitative","axis":null},"y":{"field":"v","type":"quantitative","axis":null},"detail":{"field":"s"}}},
   {"data":{"values":[{}]},"mark":{"type":"text","text":"e","font":"Liberation Sans","fontSize":16,"align":"left","baseline":"alphabetic","color":"#000"},"encoding":{"x":{"datum":-7.49,"type":"quantitative","axis":null},"y":{"datum":1.57,"type":"quantitative","axis":null}}},
   {"data":{"values":[{}]},"mark":{"type":"text","text":"g","font":"Liberation Sans","fontSize":12,"align":"left","baseline":"alphabetic","color":"#000"},"encoding":{"x":{"datum":-7.12,"type":"quantitative","axis":null},"y":{"datum":1.4,"type":"quantitative","axis":null}}}
 ]}
]
}
